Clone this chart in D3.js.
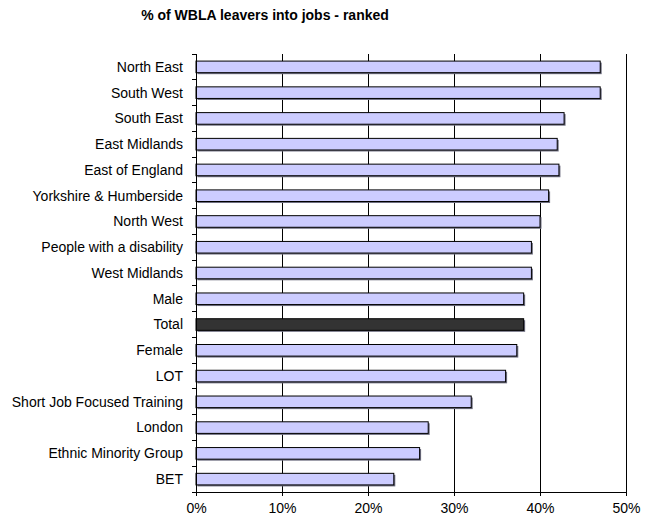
<!DOCTYPE html>
<html>
<head>
<meta charset="utf-8">
<script src="https://cdn.jsdelivr.net/npm/d3@7"></script>
<style>
  body { margin: 0; background: #fff; }
  svg { display: block; font-family: "Liberation Sans", Arial, sans-serif; }
</style>
</head>
<body>
<svg id="chart" width="647" height="515"></svg>
<script>
// Ranked share of leavers going into jobs
const categories = [
  "North East", "South West", "South East", "East Midlands", "East of England",
  "Yorkshire & Humberside", "North West", "People with a disability", "West Midlands",
  "Male", "Total", "Female", "LOT", "Short Job Focused Training", "London",
  "Ethnic Minority Group", "BET"
];
const values = [47.0, 47.0, 42.8, 42.0, 42.2, 41.0, 40.0, 39.0, 39.0,
                38.1, 38.1, 37.3, 36.0, 32.0, 27.0, 26.0, 23.0];
const xTicks = [0, 10, 20, 30, 40, 50];
const highlight = "Total";

const svg = d3.select("#chart");
const margin = { left: 196, right: 21, top: 54, bottom: 23 };
const W = 647, H = 515;

const x = d3.scaleLinear().domain([0, 50]).range([margin.left, W - margin.right]);
const y = d3.scaleBand().domain(categories).range([margin.top, H - margin.bottom])
  .paddingInner(0.55).paddingOuter(0.275);

// title
svg.append("text")
  .attr("x", 265).attr("y", 20)
  .attr("text-anchor", "middle")
  .attr("font-size", 14).attr("font-weight", "bold")
  .text("% of WBLA leavers into jobs - ranked");

// vertical gridlines
svg.append("g").selectAll("line").data(xTicks.slice(1)).join("line")
  .attr("x1", d => x(d)).attr("x2", d => x(d))
  .attr("y1", margin.top).attr("y2", H - margin.bottom)
  .attr("stroke", "#000").attr("stroke-width", 1)
  .attr("shape-rendering", "crispEdges");

// bar shadows
svg.append("g").selectAll("rect").data(categories).join("rect")
  .attr("x", x(0) + 1.5)
  .attr("y", d => y(d) + 1.5)
  .attr("width", (d, i) => x(values[i]) - x(0))
  .attr("height", y.bandwidth())
  .attr("fill", "#6e6e80");

// bars
svg.append("g").selectAll("rect").data(categories).join("rect")
  .attr("x", x(0))
  .attr("y", d => y(d))
  .attr("width", (d, i) => x(values[i]) - x(0))
  .attr("height", y.bandwidth())
  .attr("fill", d => d === highlight ? "#333333" : "#ccccff")
  .attr("stroke", "#000").attr("stroke-width", 1);

// x axis
const xAxis = d3.axisBottom(x).tickValues(xTicks).tickFormat(d => d + "%")
  .tickSize(4).tickSizeOuter(0);
const gx = svg.append("g").attr("transform", `translate(0,${H - margin.bottom})`).call(xAxis);
gx.selectAll("text").attr("font-size", 14).attr("fill", "#000")
  .attr("y", 0).attr("dy", 0).attr("transform", "translate(0,21)")
  .attr("font-family", "Liberation Sans, Arial, sans-serif");
gx.selectAll("line, path").attr("stroke", "#000");

// y axis with ticks at band boundaries
const gy = svg.append("g");
gy.append("line")
  .attr("x1", x(0)).attr("x2", x(0))
  .attr("y1", margin.top).attr("y2", H - margin.bottom)
  .attr("stroke", "#000").attr("shape-rendering", "crispEdges");
const bounds = d3.range(categories.length + 1).map(i => margin.top + i * (H - margin.top - margin.bottom) / categories.length);
gy.selectAll("line.tick").data(bounds).join("line")
  .attr("class", "tick")
  .attr("x1", x(0) - 4).attr("x2", x(0))
  .attr("y1", d => d).attr("y2", d => d)
  .attr("stroke", "#000").attr("shape-rendering", "crispEdges");
gy.selectAll("text").data(categories).join("text")
  .attr("x", x(0) - 13)
  .attr("y", d => y(d) + y.bandwidth() / 2)
  .attr("dy", "0.35em")
  .attr("text-anchor", "end")
  .attr("font-size", 14)
  .text(d => d);
</script>
</body>
</html>
